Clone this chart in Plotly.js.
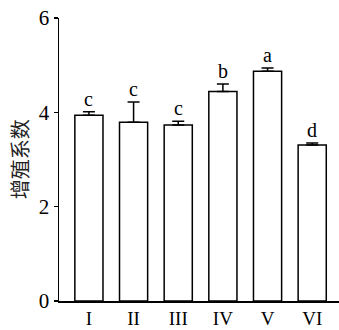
<!DOCTYPE html>
<html>
<head>
<meta charset="utf-8">
<script src="https://cdn.plot.ly/plotly-3.0.1.min.js"></script>
<style>
    html, body { margin: 0; padding: 0; background: #fff; }
    #chart { width: 339px; height: 330px; }
</style>
</head>
<body>
<div id="chart"></div>
<script>
/* global Plotly */

const groups = ['I', 'II', 'III', 'IV', 'V', 'VI'];
const means = [3.94, 3.79, 3.73, 4.44, 4.87, 3.31];
const errors = [0.07, 0.43, 0.08, 0.16, 0.07, 0.04];
const letters = ['c', 'c', 'c', 'b', 'a', 'd'];

const SERIF = '"Liberation Serif", "Times New Roman", serif';

function buildBars() {
    return {
        type: 'bar',
        x: groups,
        y: means,
        marker: {
            color: '#ffffff',
            line: { color: '#000000', width: 1.5 }
        },
        error_y: {
            type: 'data',
            array: errors,
            arrayminus: errors.map(() => 0),
            symmetric: false,
            color: '#000000',
            thickness: 1.5,
            width: 6
        },
        hoverinfo: 'skip'
    };
}

function buildLetters() {
    return letters.map((letter, idx) => ({
        x: groups[idx],
        y: means[idx] + errors[idx],
        xref: 'x',
        yref: 'y',
        text: letter,
        showarrow: false,
        yanchor: 'bottom',
        yshift: 0,
        font: { family: SERIF, size: 20, color: '#000' }
    }));
}

const layout = {
    width: 339,
    height: 330,
    margin: { l: 59, r: 0, t: 18, b: 29 },
    paper_bgcolor: '#fff',
    plot_bgcolor: '#fff',
    showlegend: false,
    bargap: 0.37,
    xaxis: {
        range: [-0.67, 5.6],
        showline: true,
        linecolor: '#000',
        linewidth: 1.5,
        ticks: '',
        showgrid: false,
        zeroline: false,
        tickfont: { family: SERIF, size: 19, color: '#000' },
        fixedrange: true
    },
    yaxis: {
        range: [0, 6],
        tickvals: [0, 2, 4, 6],
        showline: true,
        linecolor: '#000',
        linewidth: 1.5,
        ticks: 'outside',
        ticklen: 4,
        tickwidth: 1.5,
        tickcolor: '#000',
        showgrid: false,
        zeroline: false,
        tickfont: { family: SERIF, size: 21, color: '#000' },
        fixedrange: true
    },
    annotations: buildLetters().concat([{
        xref: 'paper',
        yref: 'paper',
        x: -0.14,
        y: 0.5,
        text: '增殖系数',
        textangle: -90,
        showarrow: false,
        xanchor: 'center',
        yanchor: 'middle',
        font: { family: '"Noto Sans CJK SC", sans-serif', size: 20, color: '#222' }
    }])
};

Plotly.newPlot('chart', [buildBars()], layout, {
    displayModeBar: false,
    staticPlot: true
});
</script>
</body>
</html>
